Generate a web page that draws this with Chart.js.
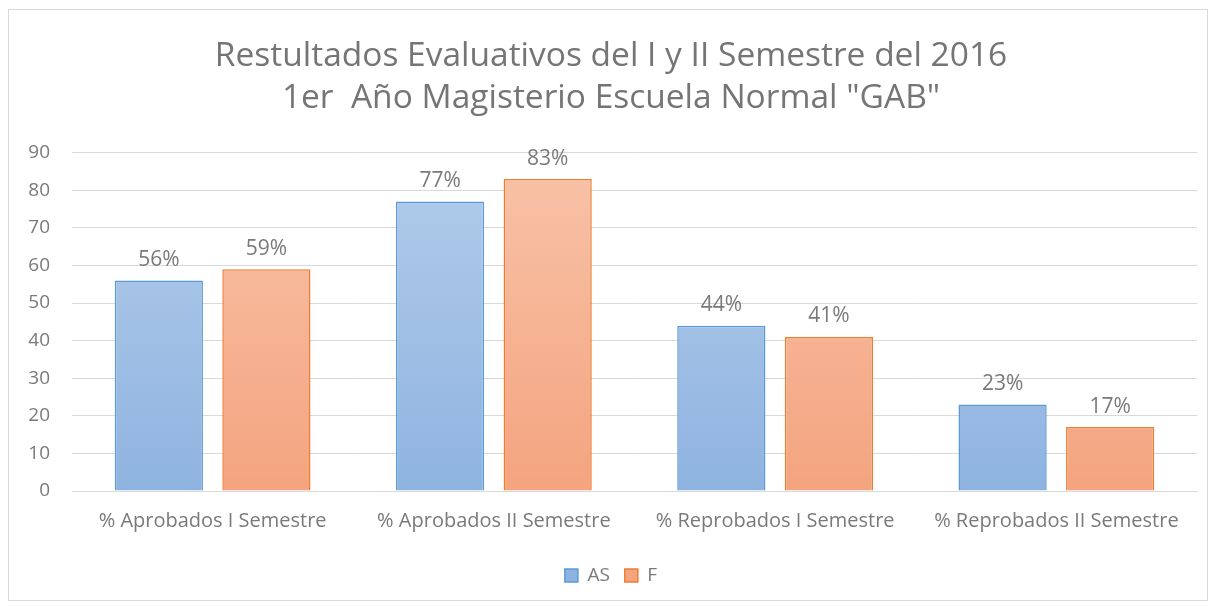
<!DOCTYPE html>
<html>
<head>
<meta charset="utf-8">
<script src="https://cdn.jsdelivr.net/npm/chart.js@4"></script>
<style>
  html, body { margin: 0; padding: 0; background: #fff; }
  .chart-box {
    position: absolute; left: 8px; top: 9px;
    width: 1198px; height: 590px;
    border: 1px solid #d9d9d9; background: #fff;
  }
  canvas { display: block; }
</style>
</head>
<body>
<div class="chart-box"><canvas id="evalChart" width="1198" height="590"></canvas></div>
<script>
const categories = ["% Aprobados I Semestre", "% Aprobados II Semestre", "% Reprobados I Semestre", "% Reprobados II Semestre"];
const asValues = [56, 77, 44, 23];
const fValues = [59, 83, 41, 17];
const yTicks = [0, 10, 20, 30, 40, 50, 60, 70, 80, 90];

const FONT = "'Open Sans', 'Noto Sans', sans-serif";

function makeGradient(ctx, area, top, bottom) {
  if (!area) return top;
  const g = ctx.createLinearGradient(0, area.top, 0, area.bottom);
  g.addColorStop(0, top);
  g.addColorStop(1, bottom);
  return g;
}

// labels above bars like "56%"
const valueLabels = {
  id: "valueLabels",
  afterDatasetsDraw(chart) {
    const ctx = chart.ctx;
    ctx.save();
    ctx.font = "21px " + FONT;
    ctx.fillStyle = "#7a7a7a";
    ctx.textAlign = "center";
    ctx.textBaseline = "bottom";
    chart.data.datasets.forEach(function (ds, i) {
      chart.getDatasetMeta(i).data.forEach(function (bar, j) {
        ctx.fillText(ds.data[j] + "%", bar.x, bar.y - 10);
      });
    });
    ctx.restore();
  }
};

const ctx = document.getElementById("evalChart").getContext("2d");

new Chart(ctx, {
  type: "bar",
  data: {
    labels: categories,
    datasets: [
      {
        label: "AS",
        data: asValues,
        backgroundColor: function (c) {
          return makeGradient(c.chart.ctx, c.chart.chartArea, "#b3cdea", "#8fb3e0");
        },
        borderColor: "#5b9bd5",
        borderWidth: 1.5,
      },
      {
        label: "F",
        data: fValues,
        backgroundColor: function (c) {
          return makeGradient(c.chart.ctx, c.chart.chartArea, "#f8c3a9", "#f4a47f");
        },
        borderColor: "#ed7d31",
        borderWidth: 1.5,
      },
    ],
  },
  options: {
    responsive: false,
    animation: false,
    devicePixelRatio: 1,
    layout: { padding: { left: 16, right: 10, top: 0, bottom: 5 } },
    datasets: {
      bar: { categoryPercentage: 0.765, barPercentage: 0.82 },
    },
    scales: {
      x: {
        grid: { display: false, drawTicks: false },
        border: { color: "#d9d9d9", width: 1 },
        ticks: { color: "#7a7a7a", font: { family: FONT, size: 20 }, padding: 18, maxRotation: 0 },
      },
      y: {
        min: 0,
        max: 90,
        afterBuildTicks: function (axis) {
          axis.ticks = yTicks.map(function (v) { return { value: v }; });
        },
        afterFit: function (axis) {
          axis.width = 47;
        },
        grid: { color: "#d9d9d9", drawTicks: false },
        border: { display: false },
        ticks: { color: "#7a7a7a", font: { family: FONT, size: 19 }, padding: 22 },
      },
    },
    plugins: {
      title: {
        display: true,
        text: ["Restultados Evaluativos del I y II Semestre del 2016", "1er  Año Magisterio Escuela Normal \"GAB\""],
        color: "#757575",
        font: { family: FONT, size: 33.5, weight: "normal", lineHeight: 1.25 },
        padding: { top: 26, bottom: 33 },
      },
      legend: {
        position: "bottom",
        labels: {
          color: "#7a7a7a",
          font: { family: FONT, size: 19 },
          boxWidth: 13,
          boxHeight: 13,
          padding: 15,
        },
      },
      tooltip: { enabled: false },
    },
  },
  plugins: [valueLabels],
});
</script>
</body>
</html>
